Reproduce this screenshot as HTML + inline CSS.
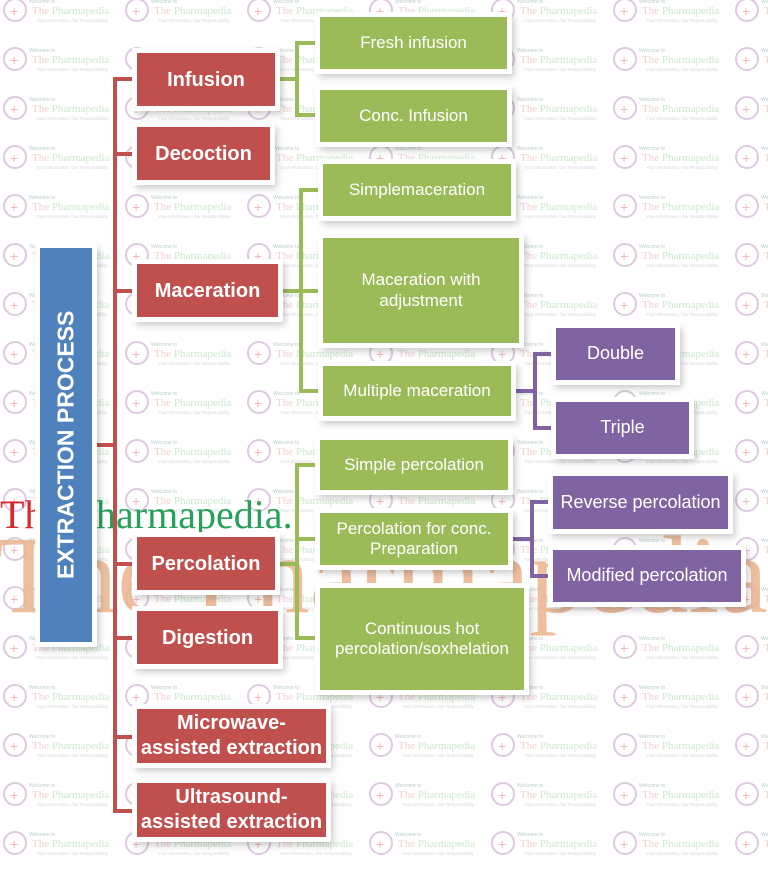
<!DOCTYPE html>
<html><head><meta charset="utf-8"><style>
html,body{margin:0;padding:0;background:#fff}
body{width:768px;height:872px;position:relative;overflow:hidden;font-family:"Liberation Sans",sans-serif}
.b{position:absolute;color:#fff;display:flex;align-items:center;justify-content:center;text-align:center;box-shadow:0 0 0 5px #fff,3px 4px 7px 4px rgba(0,0,0,.22);line-height:1.2;white-space:nowrap}
.r{background:#c0504d;font-weight:bold;font-size:20px}
.g{background:#9bbb59;font-size:17px}
.p{background:#8064a2;font-size:18px}
.l{position:absolute}
.lr{background:#c0504d}.lg{background:#9bbb59}.lp{background:#8064a2}
</style></head><body>
<svg width="768" height="872" style="position:absolute;left:0;top:0">
<defs><pattern id="wm" x="0" y="-10" width="122" height="49" patternUnits="userSpaceOnUse">
<circle cx="15" cy="20" r="11" fill="none" stroke="#ddc9e0" stroke-width="2"/>
<text x="10" y="26" font-size="14" fill="#efb9bd" font-family="Liberation Sans">+</text>
<text x="29" y="13" font-size="5" fill="#bcc" font-family="Liberation Sans">Welcome to</text>
<text x="32" y="24" font-size="11" fill="#f2d0d2" font-family="Liberation Serif">The <tspan fill="#cde8cf">Pharmapedia</tspan></text>
<text x="36" y="32" font-size="4.5" fill="#d4d4de" font-family="Liberation Sans">Your Information, Our Responsibility</text>
</pattern></defs>
<rect width="768" height="872" fill="url(#wm)"/>
<text x="-5" y="612" font-size="110" fill="#eab48f" font-family="Liberation Serif" opacity="0.85">The Pharmapedia.com</text>
<text x="0" y="528" font-size="40" fill="#d42a2a" font-family="Liberation Serif">Th</text>
<text x="96" y="528" font-size="40" fill="#27a05a" font-family="Liberation Serif">harmapedia.</text>
</svg>
<!-- red trunk -->
<div class="l lr" style="left:113px;top:77px;width:4px;height:736px"></div>
<div class="l lr" style="left:92px;top:443px;width:23px;height:4px"></div>
<div class="l lr" style="left:113px;top:77px;width:24px;height:4px"></div>
<div class="l lr" style="left:113px;top:152px;width:24px;height:4px"></div>
<div class="l lr" style="left:113px;top:289px;width:24px;height:4px"></div>
<div class="l lr" style="left:113px;top:562px;width:24px;height:4px"></div>
<div class="l lr" style="left:113px;top:636px;width:24px;height:4px"></div>
<div class="l lr" style="left:113px;top:735px;width:24px;height:4px"></div>
<div class="l lr" style="left:113px;top:809px;width:24px;height:4px"></div>
<!-- green infusion -->
<div class="l lg" style="left:275px;top:77px;width:22px;height:4px"></div>
<div class="l lg" style="left:295px;top:41px;width:4px;height:76px"></div>
<div class="l lg" style="left:295px;top:41px;width:25px;height:4px"></div>
<div class="l lg" style="left:295px;top:113px;width:25px;height:4px"></div>
<!-- green maceration -->
<div class="l lg" style="left:278px;top:289px;width:23px;height:4px"></div>
<div class="l lg" style="left:299px;top:188px;width:4px;height:205px"></div>
<div class="l lg" style="left:299px;top:188px;width:24px;height:4px"></div>
<div class="l lg" style="left:299px;top:289px;width:24px;height:4px"></div>
<div class="l lg" style="left:299px;top:389px;width:24px;height:4px"></div>
<!-- green percolation -->
<div class="l lg" style="left:275px;top:562px;width:22px;height:4px"></div>
<div class="l lg" style="left:295px;top:463px;width:4px;height:177px"></div>
<div class="l lg" style="left:295px;top:463px;width:25px;height:4px"></div>
<div class="l lg" style="left:295px;top:537px;width:25px;height:4px"></div>
<div class="l lg" style="left:295px;top:636px;width:25px;height:4px"></div>
<!-- purple -->
<div class="l lp" style="left:511px;top:389px;width:24px;height:4px"></div>
<div class="l lp" style="left:533px;top:352px;width:4px;height:78px"></div>
<div class="l lp" style="left:533px;top:352px;width:22px;height:4px"></div>
<div class="l lp" style="left:533px;top:426px;width:22px;height:4px"></div>
<div class="l lp" style="left:508px;top:537px;width:24px;height:4px"></div>
<div class="l lp" style="left:530px;top:500px;width:4px;height:78px"></div>
<div class="l lp" style="left:530px;top:500px;width:23px;height:4px"></div>
<div class="l lp" style="left:530px;top:574px;width:23px;height:4px"></div>

<div class="b" style="left:40px;top:248px;width:52px;height:394px;background:#4f81bd"><span style="transform:rotate(-90deg);white-space:nowrap;font-weight:bold;font-size:23px">EXTRACTION PROCESS</span></div>
<div class="b r" style="left:137px;top:53px;width:138px;height:53px">Infusion</div>
<div class="b r" style="left:137px;top:127px;width:133px;height:53px">Decoction</div>
<div class="b r" style="left:137px;top:264px;width:141px;height:53px">Maceration</div>
<div class="b r" style="left:137px;top:537px;width:138px;height:53px">Percolation</div>
<div class="b r" style="left:137px;top:611px;width:141px;height:53px">Digestion</div>
<div class="b r" style="left:137px;top:709px;width:189px;height:54px;line-height:1.25">Microwave-<br>assisted extraction</div>
<div class="b r" style="left:137px;top:783px;width:189px;height:54px;line-height:1.25">Ultrasound-<br>assisted extraction</div>

<div class="b g" style="left:320px;top:17px;width:187px;height:52px">Fresh infusion</div>
<div class="b g" style="left:320px;top:90px;width:187px;height:52px">Conc. Infusion</div>
<div class="b g" style="left:323px;top:164px;width:188px;height:52px">Simplemaceration</div>
<div class="b g" style="left:323px;top:238px;width:196px;height:105px">Maceration with<br>adjustment</div>
<div class="b g" style="left:323px;top:366px;width:188px;height:50px">Multiple maceration</div>
<div class="b g" style="left:320px;top:440px;width:188px;height:50px">Simple percolation</div>
<div class="b g" style="left:320px;top:513px;width:188px;height:52px">Percolation for conc.<br>Preparation</div>
<div class="b g" style="left:320px;top:588px;width:204px;height:102px">Continuous hot<br>percolation/soxhelation</div>

<div class="b p" style="left:556px;top:328px;width:119px;height:52px">Double</div>
<div class="b p" style="left:556px;top:402px;width:133px;height:52px">Triple</div>
<div class="b p" style="left:553px;top:476px;width:175px;height:53px">Reverse percolation</div>
<div class="b p" style="left:553px;top:550px;width:188px;height:52px">Modified percolation</div>
</body></html>
